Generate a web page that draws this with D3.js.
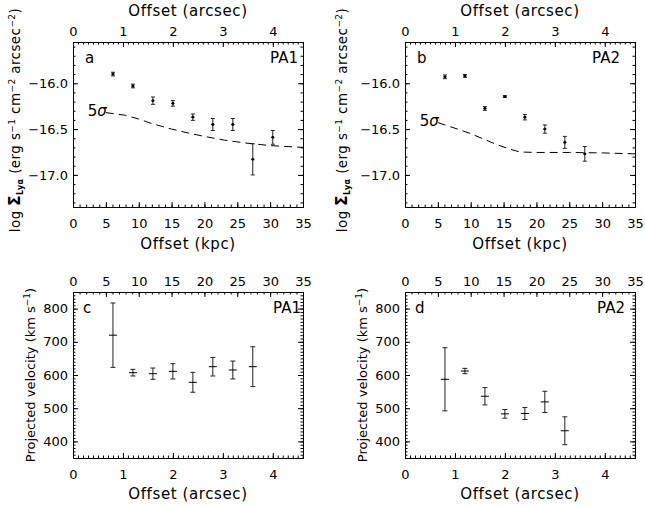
<!DOCTYPE html>
<html>
<head>
<meta charset="utf-8">
<script src="https://cdn.jsdelivr.net/npm/d3@7"></script>
<style>
  body { margin: 0; background: #fff; }
  text { font-family: "DejaVu Sans", sans-serif; fill: #000; }
</style>
</head>
<body>
<svg id="chart" width="645" height="508"></svg>
<script>
// ---------- data ----------
const KPC_PER_ARCSEC = 7.6;

// Lya surface brightness profiles (x in arcsec)
const offsetPA1 = [0.8, 1.2, 1.6, 2.0, 2.4, 2.8, 3.2, 3.6, 4.0];
const fluxPA1 = [-15.90, -16.03, -16.19, -16.22, -16.37, -16.45, -16.45, -16.83, -16.59];
const fluxErrPA1 = [0.02, 0.02, 0.04, 0.03, 0.035, 0.065, 0.065, 0.17, 0.075];

const offsetPA2 = [0.8, 1.2, 1.6, 2.0, 2.4, 2.8, 3.2, 3.6];
const fluxPA2 = [-15.93, -15.92, -16.275, -16.145, -16.37, -16.50, -16.645, -16.77];
const fluxErrPA2 = [0.02, 0.015, 0.02, 0.01, 0.03, 0.045, 0.065, 0.08];

// 5 sigma detection limit (x in kpc)
const sigmaKpcPA1 = [5, 8, 10, 12, 15, 18, 20, 23, 26, 30, 35];
const sigmaPA1 = [-16.32, -16.35, -16.39, -16.44, -16.50, -16.55, -16.58, -16.62, -16.65, -16.68, -16.70];
const sigmaKpcPA2 = [5, 8, 10, 12, 14, 16, 17.5, 20, 25, 30, 35];
const sigmaPA2 = [-16.43, -16.50, -16.55, -16.61, -16.67, -16.72, -16.75, -16.755, -16.755, -16.76, -16.77];

// projected velocities (x in arcsec)
const velOffsetPA1 = [0.8, 1.2, 1.6, 2.0, 2.4, 2.8, 3.2, 3.6];
const velPA1 = [720, 607, 604, 611, 578, 625, 615, 625];
const velErrPA1 = [97, 10, 17, 23, 30, 28, 27, 60];

const velOffsetPA2 = [0.8, 1.2, 1.6, 2.0, 2.4, 2.8, 3.2];
const velPA2 = [587, 612, 536, 483, 484, 519, 432];
const velErrPA2 = [95, 8, 26, 13, 18, 32, 42];

// ticks
const kpcTicks = d3.range(0, 36, 5);
const arcsecTicks = [0, 1, 2, 3, 4];
const fluxTicks = [-17.0, -16.5, -16.0];
const velTicks = [400, 500, 600, 700, 800];

// ---------- layout ----------
const svg = d3.select("#chart");

const frames = {
  a: { x0: 73, x1: 303, y0: 42, y1: 207 },
  b: { x0: 405, x1: 635, y0: 42, y1: 207 },
  c: { x0: 73, x1: 303, y0: 292, y1: 458 },
  d: { x0: 405, x1: 635, y0: 292, y1: 458 },
};

const FLUX_DOMAIN = [-17.35, -15.55];
const VEL_DOMAIN = [350, 850];

// draws frame + inward major/minor ticks on all four sides
function drawAxes(f, opts) {
  const g = svg.append("g");
  const { xTop, xBot, y } = opts;

  function axisPair(axisFn, scale, major, minor, fmt, pos, showLabels, pad) {
    const a = axisFn(scale).tickValues(major).tickSize(-5).tickSizeOuter(0)
      .tickPadding(pad).tickFormat(showLabels ? fmt : "");
    const m = axisFn(scale).tickValues(minor).tickSize(-2.5).tickSizeOuter(0).tickFormat("");
    const ga = g.append("g").attr("transform", pos).call(a);
    g.append("g").attr("transform", pos).call(m);
    return ga;
  }

  const xTopMinor = xTop.kind === "kpc" ? d3.range(0, 35.01, 1) : d3.range(0, 4.61, 0.1);
  const xBotMinor = xBot.kind === "kpc" ? d3.range(0, 35.01, 1) : d3.range(0, 4.61, 0.1);
  const yMinor = opts.yKind === "flux"
    ? d3.range(-17.3, -15.55, 0.1)
    : d3.range(350, 851, 10);

  axisPair(d3.axisTop, xTop.scale, xTop.ticks, xTopMinor, d3.format("d"),
    `translate(0,${f.y0})`, true, 6);
  axisPair(d3.axisBottom, xBot.scale, xBot.ticks, xBotMinor, d3.format("d"),
    `translate(0,${f.y1})`, true, 12);
  axisPair(d3.axisLeft, y, opts.yTicks, yMinor, opts.yFmt,
    `translate(${f.x0},0)`, true, 5);
  axisPair(d3.axisRight, y, opts.yTicks, yMinor, "",
    `translate(${f.x1},0)`, false, 5);

  g.selectAll(".domain").remove();
  g.selectAll(".tick line").attr("stroke", "#000").attr("stroke-width", 1);
  g.selectAll(".tick text").style("font-size", "13px").attr("fill", "#000");

  g.append("rect")
    .attr("x", f.x0).attr("y", f.y0)
    .attr("width", f.x1 - f.x0).attr("height", f.y1 - f.y0)
    .attr("fill", "none").attr("stroke", "#000").attr("stroke-width", 1)
    .attr("shape-rendering", "crispEdges");
  return g;
}

function errorBars(xs, ys, es, x, y, style) {
  const pts = xs.map((v, i) => ({ x: v, y: ys[i], e: es[i] }));
  const g = svg.append("g").attr("stroke", "#222").attr("stroke-width", 1);
  const p = g.selectAll("g").data(pts).join("g");
  p.append("line")
    .attr("x1", d => x(d.x)).attr("x2", d => x(d.x))
    .attr("y1", d => y(d.y - d.e)).attr("y2", d => y(d.y + d.e));
  [-1, 1].forEach(s => {
    p.append("line")
      .attr("x1", d => x(d.x) - style.cap / 2).attr("x2", d => x(d.x) + style.cap / 2)
      .attr("y1", d => y(d.y + s * d.e)).attr("y2", d => y(d.y + s * d.e));
  });
  if (style.mark > 0) {
    p.append("line")
      .attr("stroke", "#000")
      .attr("x1", d => x(d.x) - style.mark / 2).attr("x2", d => x(d.x) + style.mark / 2)
      .attr("y1", d => y(d.y)).attr("y2", d => y(d.y));
  }
  if (style.dot) {
    p.append("circle").attr("stroke", "none").attr("fill", "#000")
      .attr("cx", d => x(d.x)).attr("cy", d => y(d.y)).attr("r", 1.4);
  }
}

function textAt(x, y, str, size, anchor) {
  return svg.append("text").attr("x", x).attr("y", y)
    .attr("text-anchor", anchor || "start")
    .style("font-size", size + "px")
    .text(str);
}

function xTitle(f, y, str) {
  textAt((f.x0 + f.x1) / 2, y, str, 15, "middle").style("letter-spacing", "0.6px");
}

// ---------- flux panels ----------
function fluxPanel(f, letter, pa, xs, ys, es, sx, sy) {
  const xk = d3.scaleLinear().domain([0, 35]).range([f.x0, f.x1]);
  const xa = d3.scaleLinear().domain([0, 35 / KPC_PER_ARCSEC]).range([f.x0, f.x1]);
  const y = d3.scaleLinear().domain(FLUX_DOMAIN).range([f.y1, f.y0]);

  drawAxes(f, {
    xTop: { scale: xa, ticks: arcsecTicks, kind: "arcsec" },
    xBot: { scale: xk, ticks: kpcTicks, kind: "kpc" },
    y, yTicks: fluxTicks, yKind: "flux", yFmt: d3.format(".1f"),
  });

  // 5 sigma curve
  const line = d3.line().x(d => xk(d[0])).y(d => y(d[1]));
  svg.append("path")
    .datum(sx.map((v, i) => [v, sy[i]]))
    .attr("d", line)
    .attr("fill", "none").attr("stroke", "#000").attr("stroke-width", 1)
    .attr("stroke-dasharray", "8,5");
  const lab = svg.append("text")
    .attr("x", xk(sx[0]) + 1).attr("y", y(sy[0]) + 3)
    .attr("text-anchor", "end").style("font-size", "15px");
  lab.append("tspan").text("5");
  lab.append("tspan").style("font-style", "italic").text("σ");

  errorBars(xs, ys, es, xa, y, { cap: 4, mark: 3, dot: true });

  xTitle(f, 16, "Offset (arcsec)");
  xTitle(f, 249, "Offset (kpc)");
  textAt(f.x0 + 12, f.y0 + 21, letter, 15, "start");
  return { xk, xa, y };
}

function fluxYTitle(cx, cy) {
  const t = svg.append("text")
    .attr("transform", `translate(${cx + 5},${cy}) rotate(-90)`)
    .attr("text-anchor", "middle")
    .style("font-size", "13.5px")
    .style("letter-spacing", "0.4px");
  t.append("tspan").text("log ");
  t.append("tspan").style("font-weight", "bold").style("font-size", "15px").text("Σ");
  t.append("tspan").style("font-size", "8px").style("font-weight", "bold")
    .attr("baseline-shift", "-3").text("Lyα");
  t.append("tspan").text(" (erg s");
  t.append("tspan").style("font-size", "9px").attr("baseline-shift", "5").text("−1");
  t.append("tspan").text(" cm");
  t.append("tspan").style("font-size", "9px").attr("baseline-shift", "5").text("−2");
  t.append("tspan").text(" arcsec");
  t.append("tspan").style("font-size", "9px").attr("baseline-shift", "5").text("−2");
  t.append("tspan").text(")");
}

function velYTitle(cx, cy) {
  const t = svg.append("text")
    .attr("transform", `translate(${cx + 5},${cy}) rotate(-90)`)
    .attr("text-anchor", "middle")
    .style("font-size", "13px");
  t.append("tspan").text("Projected velocity (km s");
  t.append("tspan").style("font-size", "9px").attr("baseline-shift", "5").text("−1");
  t.append("tspan").text(")");
}

fluxPanel(frames.a, "a", "PA1", offsetPA1, fluxPA1, fluxErrPA1, sigmaKpcPA1, sigmaPA1);
textAt(frames.a.x1 - 5, frames.a.y0 + 21, "PA1", 15, "end");
fluxYTitle(15, 120);

fluxPanel(frames.b, "b", "PA2", offsetPA2, fluxPA2, fluxErrPA2, sigmaKpcPA2, sigmaPA2);
textAt(frames.b.x1 - 15, frames.b.y0 + 21, "PA2", 15, "end");
fluxYTitle(342, 120);

// ---------- velocity panels ----------
function velPanel(f, letter, xs, ys, es) {
  const xk = d3.scaleLinear().domain([0, 35]).range([f.x0, f.x1]);
  const xa = d3.scaleLinear().domain([0, 35 / KPC_PER_ARCSEC]).range([f.x0, f.x1]);
  const y = d3.scaleLinear().domain(VEL_DOMAIN).range([f.y1, f.y0]);

  drawAxes(f, {
    xTop: { scale: xk, ticks: kpcTicks, kind: "kpc" },
    xBot: { scale: xa, ticks: arcsecTicks, kind: "arcsec" },
    y, yTicks: velTicks, yKind: "vel", yFmt: d3.format("d"),
  });

  errorBars(xs, ys, es, xa, y, { cap: 5, mark: 8, dot: false });

  xTitle(f, 499, "Offset (arcsec)");
  textAt(f.x0 + 10, f.y0 + 21, letter, 15, "start");
}

velPanel(frames.c, "c", velOffsetPA1, velPA1, velErrPA1);
textAt(frames.c.x1 - 2, frames.c.y0 + 21, "PA1", 15, "end");
velYTitle(30, 375);

velPanel(frames.d, "d", velOffsetPA2, velPA2, velErrPA2);
textAt(frames.d.x1 - 10, frames.d.y0 + 21, "PA2", 15, "end");
velYTitle(362, 375);
</script>
</body>
</html>
